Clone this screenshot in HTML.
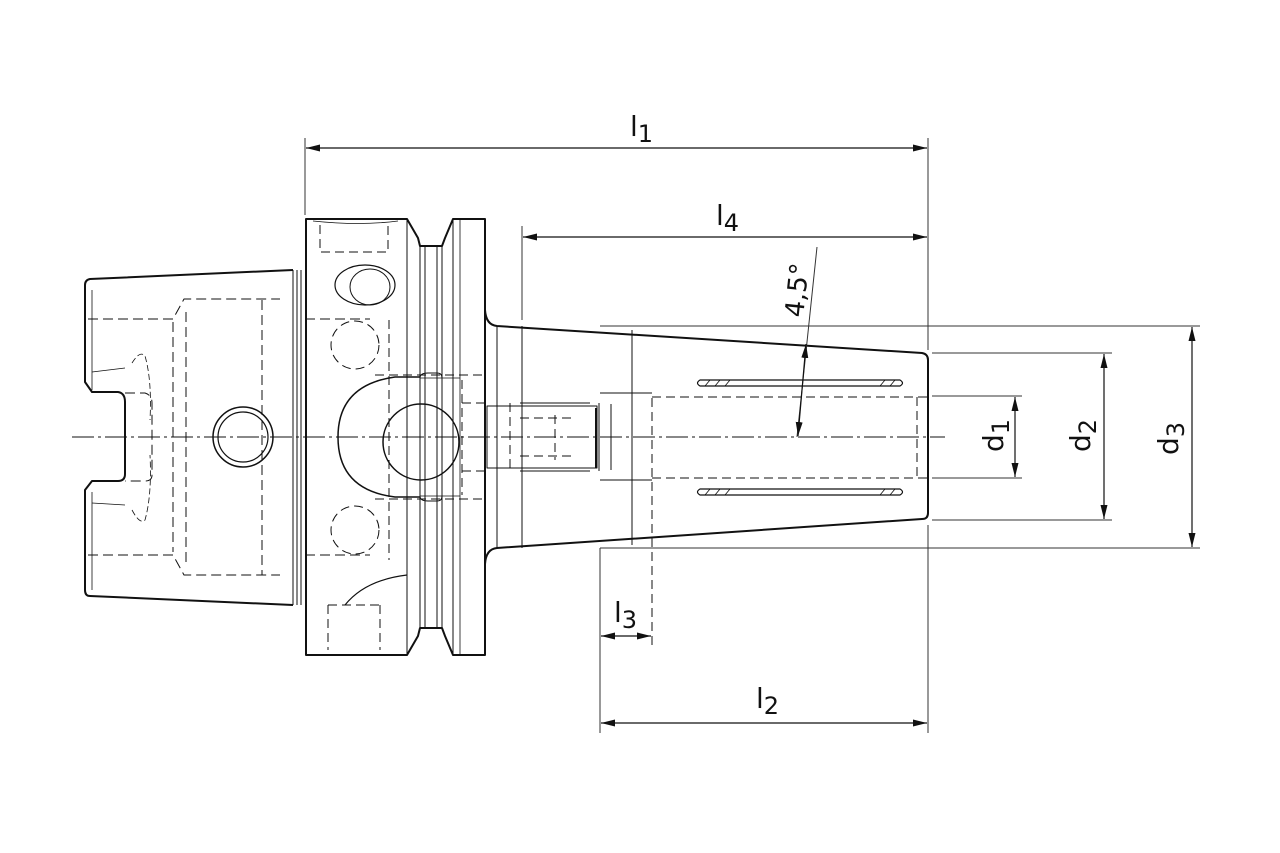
<!DOCTYPE html>
<html><head><meta charset="utf-8"><style>
html,body{margin:0;padding:0;background:#fff;}
svg{display:block;}
text{font-family:"DejaVu Sans","Liberation Sans",sans-serif;fill:#111;}
</style></head><body>
<svg width="1280" height="853" viewBox="0 0 1280 853" xmlns="http://www.w3.org/2000/svg">
<defs>
<marker id="a" viewBox="0 0 14 7" refX="14" refY="3.5" markerWidth="14" markerHeight="7" orient="auto-start-reverse" markerUnits="userSpaceOnUse"><path d="M0,0 L14,3.5 L0,7z" fill="#111"/></marker>
</defs>
<g fill="none" stroke="#111" stroke-linejoin="round">
<line x1="72" y1="437" x2="945" y2="437" stroke-width="1" stroke-dasharray="22,4,3,4"/>

<path d="M293,270 L90,279 Q85,280 85,285 L85,382 L92,392 L118,392 Q125,393 125,402 L125,474 Q125,481 118,481 L92,481 L85,490 L85,590 Q85,596 90,596 L293,605" stroke-width="2"/>
<line x1="293" y1="270" x2="293" y2="605" stroke-width="1"/>
<line x1="297" y1="270" x2="297" y2="605" stroke-width="1"/>
<line x1="301" y1="270" x2="301" y2="605" stroke-width="1"/>
<line x1="92" y1="290" x2="92" y2="390" stroke-width="0.8"/>
<line x1="92" y1="492" x2="92" y2="590" stroke-width="0.8"/>
<line x1="92" y1="372" x2="125" y2="368" stroke-width="0.8"/>
<line x1="92" y1="503" x2="125" y2="505" stroke-width="0.8"/>
<g stroke-width="1" stroke-dasharray="10,5">
<path d="M88,319 L173,319 L184,299 L280,299"/>
<path d="M88,555 L173,555 L184,575 L280,575"/>
<line x1="173" y1="322" x2="173" y2="552"/>
<line x1="186" y1="312" x2="186" y2="565"/>
<line x1="262" y1="300" x2="262" y2="575"/>
<path d="M125,393 L145,393 Q152,395 152,403 L152,475 Q152,481 145,481 L125,481"/>
<line x1="305" y1="319" x2="370" y2="319"/>
<line x1="305" y1="555" x2="370" y2="555"/>
</g>
<path d="M132,363 Q140,350 145,356 Q152,380 150,420" stroke-width="0.8" stroke-dasharray="6,3"/>
<path d="M132,510 Q140,525 145,520 Q152,495 150,455" stroke-width="0.8" stroke-dasharray="6,3"/>
<circle cx="243" cy="437" r="30" stroke-width="1.5"/>
<circle cx="243" cy="437" r="25" stroke-width="1.2"/>

<path d="M306,219 L407,219 L418,238 L420,246 L442,246 L445,238 L453,219 L485,219 L485,655 L453,655 L445,636 L442,628 L420,628 L418,636 L407,655 L306,655 Z" stroke-width="2"/>
<line x1="420" y1="246" x2="420" y2="628" stroke-width="1"/>
<line x1="425" y1="246" x2="425" y2="628" stroke-width="1"/>
<line x1="437" y1="246" x2="437" y2="628" stroke-width="1"/>
<line x1="442" y1="246" x2="442" y2="628" stroke-width="1"/>
<line x1="407" y1="219" x2="407" y2="655" stroke-width="1"/>
<line x1="453" y1="219" x2="453" y2="655" stroke-width="1"/>
<line x1="460" y1="219" x2="460" y2="655" stroke-width="0.8"/>
<path d="M313,221 Q360,226 398,221" stroke-width="0.8"/>
<g stroke-width="1" stroke-dasharray="9,5">
<path d="M320,225 L320,252 L388,252 L388,225"/>
<path d="M328,605 L328,650 M380,605 L380,650 M328,605 L380,605"/>
<circle cx="355" cy="345" r="24"/>
<circle cx="355" cy="530" r="24"/>
<line x1="389" y1="320" x2="389" y2="560"/>
<path d="M375,375 L485,375 M375,499 L485,499"/>
<path d="M462,403 L485,403 M462,471 L485,471"/>
<line x1="462" y1="380" x2="462" y2="495"/>
</g>
<ellipse cx="365" cy="285" rx="30" ry="20" stroke-width="1.2"/>
<ellipse cx="370" cy="287" rx="20" ry="18" stroke-width="1"/>
<path d="M420,378 Q420,373 428,373 L437,373 Q442,373 442,378 M420,496 Q420,501 428,501 L437,501 Q442,501 442,496" stroke-width="1"/>
<path d="M420,378 L460,378 M420,496 L460,496" stroke-width="0.8"/>
<path d="M420,377 L395,377 Q338,385 338,437 Q338,490 395,497 L420,497" stroke-width="1.5"/>
<circle cx="421" cy="442" r="38" stroke-width="1.5"/>
<path d="M345,605 Q365,580 407,575" stroke-width="1.2"/>

<path d="M485,310 Q486,325 497,326 L922,353 Q928,354 928,360 L928,513 Q928,519 922,519 L497,548 Q486,549 485,564" stroke-width="2"/>
<line x1="497" y1="326" x2="497" y2="548" stroke-width="1"/>
<line x1="522" y1="326" x2="522" y2="548" stroke-width="1"/>
<line x1="632" y1="330" x2="632" y2="545" stroke-width="1"/>
<g stroke-width="1">
<rect x="487" y="406" width="110" height="62"/>
<path d="M520,403 L590,403 M520,471 L590,471"/>
<line x1="599" y1="403" x2="599" y2="471"/>
<line x1="596" y1="408" x2="596" y2="468" stroke-width="2"/>
<line x1="611" y1="404" x2="611" y2="470"/>
<path d="M600,393 L652,393 M600,480 L652,480"/>
</g>
<g stroke-width="1" stroke-dasharray="9,5">
<path d="M510,403 L510,471 M555,415 L555,460 M520,418 L575,418 M520,456 L575,456"/>
<line x1="652" y1="398" x2="652" y2="645"/>
<path d="M652,397 L928,397 M652,478 L928,478"/>
<line x1="917" y1="397" x2="917" y2="478"/>
</g>
<g stroke-width="1.2">
<path d="M700,380 L900,380 Q905,383 900,386 L700,386 Q695,383 700,380 Z"/>
<path d="M700,489 L900,489 Q905,492 900,495 L700,495 Q695,492 700,489 Z"/>
<path d="M705,386 L710,380 M715,386 L720,380 M725,386 L730,380 M880,386 L885,380 M890,386 L895,380 M705,495 L710,489 M715,495 L720,489 M725,495 L730,489 M880,495 L885,489 M890,495 L895,489" stroke-width="0.8"/>
</g>

<g stroke-width="1" stroke="#333">
<line x1="305" y1="138" x2="305" y2="215"/>
<line x1="928" y1="138" x2="928" y2="350"/>
<line x1="928" y1="525" x2="928" y2="733"/>
<line x1="522" y1="226" x2="522" y2="320"/>
<line x1="600" y1="548" x2="600" y2="733"/>
<line x1="600" y1="326" x2="1200" y2="326"/>
<line x1="600" y1="548" x2="1200" y2="548"/>
<line x1="932" y1="353" x2="1112" y2="353"/>
<line x1="932" y1="520" x2="1112" y2="520"/>
<line x1="932" y1="396" x2="1022" y2="396"/>
<line x1="932" y1="478" x2="1022" y2="478"/>
<line x1="817" y1="247" x2="797" y2="437"/>
</g>
<g stroke-width="1.2" marker-start="url(#a)" marker-end="url(#a)">
<line x1="306" y1="148" x2="927" y2="148"/>
<line x1="523" y1="237" x2="927" y2="237"/>
<line x1="601" y1="636" x2="651" y2="636"/>
<line x1="601" y1="723" x2="927" y2="723"/>
<line x1="1192" y1="327" x2="1192" y2="547"/>
<line x1="1104" y1="354" x2="1104" y2="519"/>
<line x1="1015" y1="397" x2="1015" y2="477"/>
<line x1="806" y1="344" x2="798" y2="436"/>
</g>
</g>
<text x="630" y="136" font-size="28">l<tspan font-size="24" dy="6">1</tspan></text>
<text x="716" y="225" font-size="28">l<tspan font-size="24" dy="6">4</tspan></text>
<text x="614" y="622" font-size="28">l<tspan font-size="24" dy="6">3</tspan></text>
<text x="756" y="708" font-size="28">l<tspan font-size="24" dy="6">2</tspan></text>
<text transform="translate(803,318) rotate(-84)" font-size="26">4,5°</text>
<text transform="translate(1003,452) rotate(-90)" font-size="28">d<tspan font-size="24" dy="6">1</tspan></text>
<text transform="translate(1090,452) rotate(-90)" font-size="28">d<tspan font-size="24" dy="6">2</tspan></text>
<text transform="translate(1178,455) rotate(-90)" font-size="28">d<tspan font-size="24" dy="6">3</tspan></text>
</svg>
</body></html>
